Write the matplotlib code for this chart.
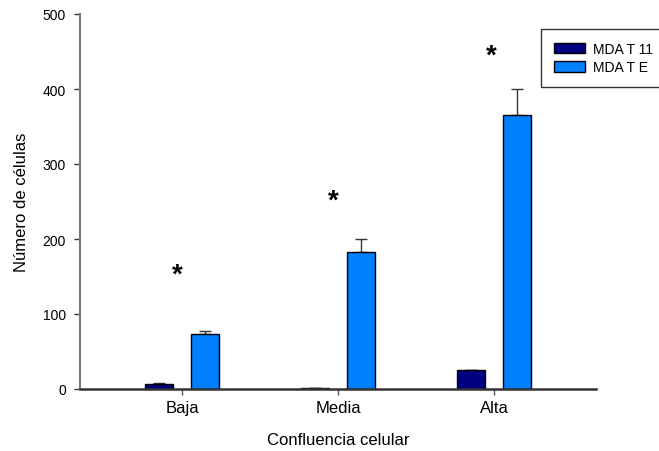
import numpy as np
import matplotlib
matplotlib.use("Agg")
import matplotlib.pyplot as plt

plt.rcParams['font.family'] = ['Liberation Sans', 'DejaVu Sans']

# data
categories = ["Baja", "Media", "Alta"]
series_names = ["MDA T 11", "MDA T E"]
mda_t11 = [6.5, 1.0, 25.5]
mda_t11_err = [2.0, 0.5, 0.5]
mda_te = [73.0, 183.0, 366.0]
mda_te_err = [4.0, 17.0, 34.0]
star_y = [153, 251, 445]

colors = ["#000080", "#0080FF"]

fig = plt.figure(figsize=(6.59, 4.52), dpi=100)
ax = fig.add_axes([80 / 659, 1 - 390 / 452, 516 / 659, 375 / 452])

index = np.arange(len(categories))
bar_width = 0.18
offset = 0.15

ax.bar(index - offset, mda_t11, bar_width, color=colors[0], edgecolor="black",
       linewidth=1.0, label=series_names[0], zorder=2)
ax.bar(index + offset, mda_te, bar_width, color=colors[1], edgecolor="black",
       linewidth=1.0, label=series_names[1], zorder=2)

# upper error bars only
ax.errorbar(index - offset, mda_t11, yerr=[np.zeros(3), mda_t11_err], fmt="none",
            ecolor="#333333", elinewidth=1.0, capsize=4, capthick=1.0, zorder=1)
ax.errorbar(index + offset, mda_te, yerr=[np.zeros(3), mda_te_err], fmt="none",
            ecolor="#333333", elinewidth=1.0, capsize=4, capthick=1.0, zorder=1)

star_dx = [-0.03, -0.03, -0.015]
for i, y in enumerate(star_y):
    ax.text(index[i] + star_dx[i], y, "*", ha="center", va="center",
            fontsize=20, fontweight="bold")

ax.set_xlim(-0.654, 2.654)
ax.set_ylim(0, 500)
ax.set_yticks([0, 100, 200, 300, 400, 500])
ax.set_xticks(index)
ax.set_xticklabels(categories, fontsize=12)
ax.tick_params(axis="y", labelsize=10, direction="out", length=4, width=1.0,
               color="#333333", pad=6)
ax.tick_params(axis="x", direction="out", length=4, width=1.0, color="#555555", pad=4)

ax.spines["top"].set_visible(False)
ax.spines["right"].set_visible(False)
ax.spines["left"].set_color("#777777")
ax.spines["left"].set_linewidth(1.5)
ax.spines["bottom"].set_color("#333333")
ax.spines["bottom"].set_linewidth(1.8)

ax.set_xlabel("Confluencia celular", fontsize=12, labelpad=12)
ax.set_ylabel("Número de células", fontsize=12, labelpad=10)

leg = ax.legend(loc="upper left", bbox_to_anchor=(541 / 659, 1 - 30 / 452),
                bbox_transform=fig.transFigure, fontsize=10, frameon=True,
                fancybox=False, edgecolor="black", handlelength=2.3,
                handleheight=0.75, labelspacing=0.35, borderpad=0.9,
                handletextpad=0.55, borderaxespad=0)
leg.get_frame().set_linewidth(1.0)

fig.savefig("out.png", dpi=100)
